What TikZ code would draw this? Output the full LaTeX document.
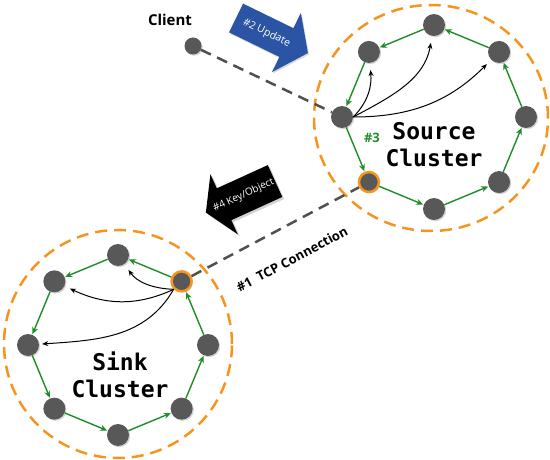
\documentclass[tikz,border=0pt]{standalone}
\usepackage{fontspec}
\setmainfont{Open Sans}
\setmonofont{DejaVu Sans Mono}
\usetikzlibrary{arrows.meta, shadows}

\definecolor{ringorange}{RGB}{247,148,30}
\definecolor{ringgreen}{RGB}{30,140,40}
\definecolor{nodegray}{RGB}{88,88,88}
\definecolor{linegray}{RGB}{80,80,80}
\definecolor{updblue}{RGB}{44,84,164}

\begin{document}
\begin{tikzpicture}[x=1pt, y=1pt,
    peer/.style={circle, fill=nodegray, minimum size=22pt, inner sep=0pt,
      drop shadow={shadow xshift=1.2pt, shadow yshift=-1.2pt, opacity=0.35}},
    gateway/.style={peer, minimum size=20pt, draw=ringorange, line width=2.5pt},
    ringlink/.style={ringgreen, line width=1.4pt, -{Stealth[length=7pt, width=6pt]}, shorten >=0.5pt},
    replic/.style={black, line width=1pt, -{Stealth[length=6pt, width=5pt]}},
    clusterline/.style={ringorange, line width=2.5pt, dash pattern=on 12pt off 7pt},
    linkline/.style={linegray, line width=2.5pt, dash pattern=on 11pt off 7pt},
    clustername/.style={font=\ttfamily\bfseries\fontsize{23}{27}\selectfont, align=center},
    tag/.style={font=\bfseries\fontsize{13}{15}\selectfont}]
    \useasboundingbox (0,0) rectangle (550,459);

    % source cluster
    \draw[clusterline] (431,341) ellipse [x radius=117, y radius=113];
    \begin{scope}[shift={(434,342)}]
        \foreach \i/\sty in {1/peer,2/peer,3/peer,4/peer,5/peer,6/gateway,7/peer,8/peer}
            \node[\sty] (s\i) at ({(\i-1)*45}:92) {};
    \end{scope}
    \foreach \i in {1,...,8} {
        \pgfmathtruncatemacro\j{mod(\i,8)+1}
        \draw[ringlink] (s\i) -- (s\j);
    }
    \node[clustername] (srcname) at (434,314.5) {Source\\Cluster};
    \node[tag, ringgreen] (step3) at (372,321) {\#3};

    % sink cluster
    \draw[clusterline] (118,115) circle (114);
    \begin{scope}[shift={(118,114)}]
        \foreach \i/\sty in {1/peer,2/gateway,3/peer,4/peer,5/peer,6/peer,7/peer,8/peer}
            \node[\sty] (k\i) at ({(\i-1)*45}:90) {};
    \end{scope}
    \foreach \i in {1,...,8} {
        \pgfmathtruncatemacro\j{mod(\i,8)+1}
        \draw[ringlink] (k\i) -- (k\j);
    }
    \node[clustername] (sinkname) at (120,84) {Sink\\Cluster};

    % replication inside the clusters
    \draw[replic, shorten >=7pt] (s5.east) to[out=45, in=-85] (s4);
    \draw[replic, shorten >=7pt] (s5.east) to[out=28, in=-100] (s3);
    \draw[replic, shorten >=6pt] (s5.east) to[out=0, in=-135] (s2);
    \draw[replic, shorten >=7pt] (k2.south west) to[out=178, in=-55] (k3);
    \draw[replic, shorten >=6pt] (k2.south west) to[out=205, in=-25] (k4);
    \draw[replic, shorten >=3pt] (k2.south west) to[out=240, in=4] (k5);

    % client and links
    \node[peer, minimum size=17pt] (client) at (193,413) {};
    \node[font=\bfseries\fontsize{15}{18}\selectfont] (clientlabel) at (170,439) {Client};
    \draw[linkline] (client) -- (s5);
    \draw[linkline] (k2) -- (s6);
    \node[tag, rotate=28] (tcplabel) at (292,200) {\#1\ \ TCP Connection};

    % update arrow
    \begin{scope}[shift={(272,423.5)}, rotate=-26]
        \fill[updblue, drop shadow={shadow xshift=1pt, shadow yshift=-1.5pt, opacity=0.3}]
            (-40,-16) -- (16,-16) -- (16,-33) -- (40,0) -- (16,33) -- (16,16) -- (-40,16) -- cycle;
        \node[white, transform shape, font=\fontsize{10.5}{12}\selectfont] (update) at (-6,0) {\#2 Update};
    \end{scope}

    % key/object arrow
    \begin{scope}[shift={(240,262)}, rotate=24.5]
        \fill[black, drop shadow={shadow xshift=2pt, shadow yshift=-2pt, opacity=0.35}]
            (38.5,-17.5) -- (-17.5,-17.5) -- (-17.5,-33) -- (-37.5,0) -- (-17.5,33) -- (-17.5,17.5) -- (38.5,17.5) -- cycle;
        \node[white, transform shape, font=\fontsize{10}{12}\selectfont] (keyobj) at (4,0) {\#4 Key/Object};
    \end{scope}
\end{tikzpicture}
\end{document}
